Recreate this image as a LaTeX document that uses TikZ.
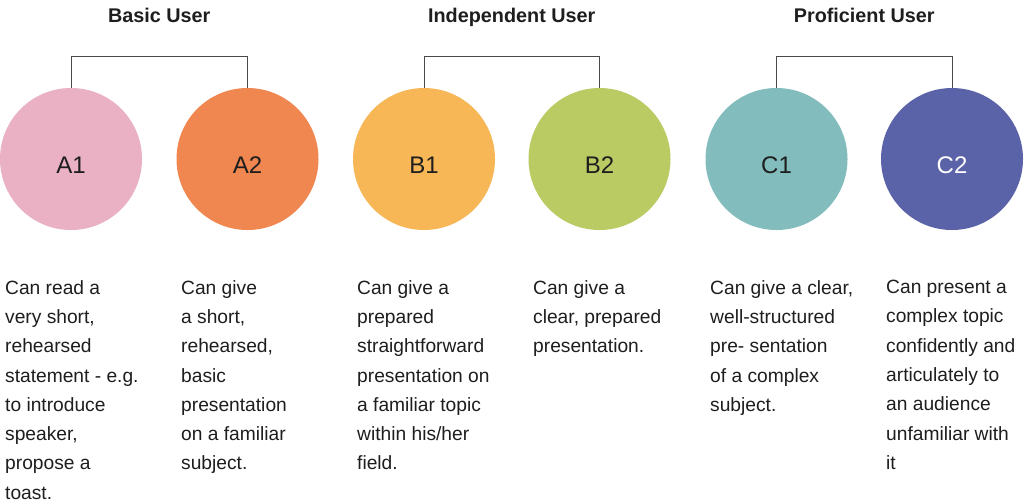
\documentclass[tikz,border=0pt]{standalone}
\usepackage{fontspec}
\setmainfont{Liberation Sans}
\definecolor{cA1}{HTML}{EAB1C4}
\definecolor{cA2}{HTML}{F08650}
\definecolor{cB1}{HTML}{F7B757}
\definecolor{cB2}{HTML}{BACB64}
\definecolor{cC1}{HTML}{82BCBC}
\definecolor{cC2}{HTML}{5B63A8}
\definecolor{txt}{HTML}{1E1E1E}
\definecolor{brk}{HTML}{4A4A4A}
\tikzset{
  level/.style={circle, minimum size=142pt, inner sep=0pt, draw=none, text=txt,
    text height=28pt, text depth=0pt, font=\fontsize{24}{28}\selectfont},
  head/.style={anchor=base, text=txt, inner sep=0pt, font=\fontsize{19.8}{24}\bfseries},
  desc/.style={anchor=north west, align=left, inner sep=0pt, text=txt,
    font=\fontsize{19.2}{29.3}\selectfont, execute at begin node={\rule{0pt}{20pt}}},
  bracket/.style={draw=brk, line width=1pt}
}
\begin{document}
\begin{tikzpicture}[x=1pt,y=-1pt]
\path[use as bounding box, fill=white] (0,0) rectangle (1024,499);
% circles
\node[level, fill=cA1] (A1) at (71,159) {A1};
\node[level, fill=cA2] (A2) at (247.5,159) {A2};
\node[level, fill=cB1] (B1) at (424,159) {B1};
\node[level, fill=cB2] (B2) at (599.5,159) {B2};
\node[level, fill=cC1] (C1) at (776.5,159) {C1};
\node[level, fill=cC2, text=white] (C2) at (952,159) {C2};
% headings
\node[head] (hA) at (159.25,22) {Basic User};
\node[head] (hB) at (511.75,22) {Independent User};
\node[head] (hC) at (864.25,22) {Proficient User};
% brackets
\draw[bracket] (A1.north) -- ++(0,-31) -| (A2.north);
\draw[bracket] (B1.north) -- ++(0,-31) -| (B2.north);
\draw[bracket] (C1.north) -- ++(0,-31) -| (C2.north);
% descriptions
\node[desc] (dA1) at (5,280) {Can read a\\very short,\\rehearsed\\statement - e.g.\\to introduce\\speaker,\\propose a\\toast.};
\node[desc] (dA2) at (181,280) {Can give\\a short,\\rehearsed,\\basic\\presentation\\on a familiar\\subject.};
\node[desc] (dB1) at (357,280) {Can give a\\prepared\\straightforward\\presentation on\\a familiar topic\\within his/her\\field.};
\node[desc] (dB2) at (533,280) {Can give a\\clear, prepared\\presentation.};
\node[desc] (dC1) at (710,280) {Can give a clear,\\well-structured\\pre- sentation\\of a complex\\subject.};
\node[desc] (dC2) at (886,280) {Can present a\\complex topic\\confidently and\\articulately to\\an audience\\unfamiliar with\\it};
\end{tikzpicture}
\end{document}
